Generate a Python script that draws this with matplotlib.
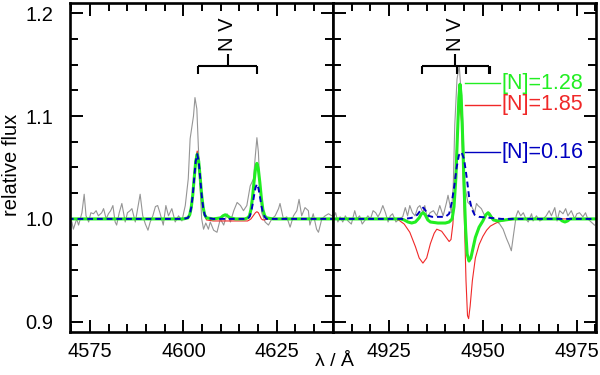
import matplotlib
matplotlib.use("Agg")
import matplotlib.pyplot as plt
from matplotlib.ticker import MultipleLocator, FormatStrFormatter

plt.rcParams['font.family'] = ['Liberation Sans', 'DejaVu Sans']

# ---------------- observed spectrum (gray) ----------------
wl_obs_left = [4570.1, 4570.5, 4571.4, 4571.9, 4572.8, 4573.4, 4573.9, 4574.6, 4575.2, 4575.9,
               4576.6, 4577.2, 4578.1, 4578.6, 4579.3, 4579.9, 4580.5, 4581.1, 4581.7, 4582.1,
               4582.8, 4583.5, 4584.4, 4585.0, 4585.7, 4586.2, 4587.1, 4587.5, 4588.4, 4589.1,
               4589.8, 4590.5, 4591.1, 4591.8, 4592.5, 4593.1, 4593.7, 4594.6, 4595.3, 4596.0,
               4596.9, 4597.8, 4598.7, 4599.6, 4600.5, 4601.3, 4601.8, 4602.7, 4603.1, 4603.6,
               4604.0, 4604.5, 4604.9, 4605.4, 4606.0, 4606.7, 4607.2, 4608.1, 4609.0, 4609.9,
               4610.8, 4611.7, 4612.6, 4613.5, 4614.4, 4615.3, 4616.1, 4617.0, 4617.9, 4618.8,
               4619.2, 4619.7, 4620.1, 4620.5, 4621.0, 4621.9, 4622.8, 4623.7, 4624.6, 4625.5,
               4625.9, 4626.8, 4627.7, 4628.6, 4629.5, 4630.4, 4631.0, 4631.7, 4632.6, 4633.5,
               4633.9, 4634.8, 4635.7, 4636.2, 4637.1, 4638.0, 4638.9, 4639.8, 4640.6]
fl_obs_left = [0.997, 0.990, 1.000, 0.994, 1.006, 1.024, 1.003, 0.997, 1.006, 1.005,
               1.008, 1.003, 1.006, 1.010, 1.000, 1.005, 1.008, 1.013, 0.997, 0.994,
               1.006, 1.015, 0.997, 1.006, 1.008, 1.010, 0.997, 1.005, 1.024, 1.003,
               0.995, 0.989, 0.997, 1.003, 1.012, 1.013, 1.006, 0.994, 1.013, 1.003,
               1.010, 0.997, 1.003, 0.998, 1.013, 1.039, 1.078, 1.100, 1.118, 1.107,
               1.071, 1.029, 1.000, 0.990, 0.996, 0.990, 0.997, 0.989, 0.987, 1.000,
               0.994, 1.005, 0.997, 1.008, 1.016, 1.013, 1.008, 1.013, 1.032, 1.039,
               1.058, 1.079, 1.065, 1.032, 1.006, 0.997, 0.994, 1.000, 1.003, 1.010,
               1.015, 1.000, 1.002, 0.992, 1.003, 1.008, 1.019, 1.003, 1.011, 1.008,
               0.994, 1.005, 0.990, 0.987, 1.000, 1.003, 1.005, 1.003, 1.006]

wl_obs_right = [4910.0, 4910.7, 4911.3, 4911.9, 4912.6, 4913.3, 4914.0, 4914.9, 4915.8, 4916.4,
                4917.1, 4917.8, 4918.4, 4919.3, 4920.0, 4920.7, 4921.4, 4922.0, 4922.6, 4923.3,
                4924.0, 4924.7, 4925.3, 4925.9, 4926.8, 4927.7, 4928.6, 4929.3, 4929.9, 4930.5,
                4931.2, 4931.9, 4932.6, 4933.2, 4934.0, 4934.5, 4935.2, 4935.9, 4936.8, 4937.7,
                4938.5, 4939.4, 4940.3, 4940.7, 4941.6, 4942.1, 4942.5, 4943.1, 4943.7, 4944.3,
                4944.7, 4945.2, 4946.0, 4946.9, 4947.8, 4948.3, 4948.7, 4949.6, 4950.5, 4951.8,
                4952.8, 4953.6, 4954.5, 4955.4, 4956.3, 4957.0, 4957.6, 4958.2, 4958.9, 4959.4,
                4960.1, 4960.8, 4961.5, 4962.1, 4963.0, 4963.4, 4964.3, 4965.2, 4966.1, 4966.9,
                4967.7, 4968.3, 4969.2, 4969.8, 4970.5, 4971.4, 4972.1, 4972.7, 4973.6, 4974.5,
                4975.1, 4975.8, 4976.7, 4977.4, 4978.0, 4978.9, 4979.8]
fl_obs_right = [1.000, 1.006, 0.997, 1.002, 0.997, 1.003, 0.998, 0.995, 1.008, 1.000,
                1.003, 0.995, 0.998, 1.003, 1.000, 1.008, 1.006, 1.002, 1.006, 1.013,
                1.006, 0.997, 1.003, 1.005, 0.997, 1.000, 1.002, 1.011, 1.003, 1.013,
                1.006, 1.003, 1.011, 1.013, 1.006, 1.013, 1.000, 1.006, 1.008, 1.003,
                1.013, 1.003, 1.016, 1.023, 1.006, 1.032, 1.091, 1.136, 1.149, 1.117,
                1.091, 1.032, 1.016, 1.013, 1.006, 1.015, 1.013, 1.010, 1.003, 1.006,
                1.000, 0.998, 0.995, 0.990, 0.981, 0.975, 0.969, 0.985, 1.003, 1.008,
                1.003, 1.006, 1.000, 0.997, 1.005, 0.998, 1.003, 0.998, 1.000, 1.003,
                1.008, 1.003, 1.011, 0.998, 1.008, 1.005, 1.010, 1.003, 1.008, 1.000,
                1.005, 1.006, 1.002, 1.006, 1.000, 0.997, 0.994]

# ---------------- model spectra, left window (N V 4604/4620) ----------------
wl_mod_left = [4569.0, 4600.0, 4601.2, 4601.7, 4602.1, 4602.5, 4602.9, 4603.3, 4603.7, 4604.1,
               4604.5, 4604.9, 4605.3, 4605.7, 4606.2, 4608.0, 4610.0, 4610.6, 4611.2, 4611.8,
               4612.5, 4614.0, 4616.5, 4617.2, 4617.7, 4618.1, 4618.5, 4618.9, 4619.3, 4619.7,
               4620.1, 4620.5, 4620.9, 4621.3, 4621.8, 4622.3, 4624.0, 4641.0]
green_left = [1.000, 1.000, 1.001, 1.004, 1.011, 1.023, 1.040, 1.056, 1.063, 1.056,
              1.040, 1.023, 1.011, 1.004, 1.001, 1.000, 1.001, 1.003, 1.004, 1.003,
              1.001, 1.000, 1.000, 1.001, 1.003, 1.009, 1.020, 1.035, 1.048, 1.054,
              1.048, 1.035, 1.020, 1.009, 1.003, 1.001, 1.000, 1.000]
red_left = [1.000, 1.000, 1.001, 1.004, 1.012, 1.025, 1.043, 1.059, 1.066, 1.059,
            1.043, 1.025, 1.011, 1.003, 0.999, 0.998, 0.998, 0.998, 0.998, 0.998,
            0.998, 0.998, 0.998, 0.998, 0.999, 1.000, 1.002, 1.004, 1.006, 1.007,
            1.006, 1.003, 1.000, 0.999, 0.999, 1.000, 1.000, 1.000]
blue_left = [1.000, 1.000, 1.001, 1.004, 1.011, 1.023, 1.040, 1.056, 1.063, 1.056,
             1.040, 1.023, 1.011, 1.004, 1.001, 1.000, 1.000, 1.000, 1.000, 1.000,
             1.000, 1.000, 1.000, 1.000, 1.002, 1.006, 1.013, 1.022, 1.030, 1.034,
             1.030, 1.022, 1.013, 1.006, 1.002, 1.000, 1.000, 1.000]

# ---------------- model spectra, right window (N V 4945) ----------------
wl_red_right = [4909.0, 4926.0, 4927.5, 4929.0, 4930.5, 4932.0, 4933.0, 4934.0, 4935.0, 4936.0,
                4937.0, 4937.7, 4939.0, 4940.0, 4941.0, 4941.5, 4942.0, 4942.5, 4943.0, 4943.5,
                4943.9, 4944.3, 4944.7, 4945.1, 4945.5, 4945.9, 4946.2, 4946.6, 4947.2, 4948.0,
                4949.0, 4950.0, 4951.0, 4952.0, 4953.5, 4955.0, 4957.0, 4960.0, 4981.0]
red_right = [1.000, 1.000, 0.999, 0.995, 0.987, 0.973, 0.962, 0.957, 0.962, 0.976,
             0.986, 0.990, 0.988, 0.983, 0.978, 0.980, 0.995, 1.030, 1.070, 1.100,
             1.110, 1.095, 1.050, 0.995, 0.940, 0.906, 0.903, 0.915, 0.940, 0.962,
             0.975, 0.983, 0.989, 0.993, 0.996, 0.998, 0.999, 1.000, 1.000]

wl_green_right = [4909.0, 4928.0, 4929.0, 4930.0, 4931.0, 4932.0, 4933.0, 4933.6, 4934.1, 4934.6,
                  4935.3, 4936.0, 4938.0, 4940.0, 4941.0, 4941.8, 4942.3, 4942.8, 4943.2, 4943.6,
                  4943.9, 4944.2, 4944.6, 4945.0, 4945.4, 4945.8, 4946.3, 4946.8, 4947.4, 4948.0,
                  4949.0, 4950.0, 4950.8, 4951.4, 4952.0, 4952.8, 4954.0, 4956.0, 4958.0, 4970.5,
                  4971.2, 4971.9, 4972.6, 4973.3, 4981.0]
green_right = [1.000, 1.000, 0.999, 0.997, 0.996, 0.997, 1.001, 1.005, 1.006, 1.004,
               0.999, 0.997, 0.996, 0.996, 0.997, 1.000, 1.012, 1.040, 1.080, 1.118,
               1.131, 1.120, 1.080, 1.030, 0.990, 0.966, 0.959, 0.962, 0.972, 0.982,
               0.992, 0.998, 1.004, 1.006, 1.003, 0.999, 0.998, 0.999, 1.000, 1.000,
               0.998, 0.997, 0.998, 1.000, 1.000]

wl_blue_right = [4909.0, 4929.0, 4931.0, 4932.5, 4933.5, 4934.1, 4934.7, 4935.5, 4936.5, 4938.0,
                 4940.0, 4941.0, 4941.7, 4942.3, 4943.0, 4943.6, 4944.3, 4945.0, 4945.7, 4946.3,
                 4947.0, 4947.8, 4949.0, 4952.0, 4955.0, 4981.0]
blue_right = [1.000, 1.000, 1.001, 1.004, 1.009, 1.011, 1.008, 1.003, 1.002, 1.002,
              1.002, 1.005, 1.016, 1.030, 1.050, 1.062, 1.065, 1.058, 1.040, 1.022,
              1.010, 1.004, 1.002, 1.001, 1.000, 1.000]

# ---------------- annotations ----------------
nv_left = [4603.9, 4619.6]
nv_left_center = 4611.9
nv_right = [4933.8, 4951.7]
nv_right_inner = [4943.0, 4945.5]
nv_right_center = 4942.6
legend_labels = ['[N]=1.28', '[N]=1.85', '[N]=0.16']
legend_levels = [1.132, 1.111, 1.065]

c_gray = '#959595'
c_red = '#f02828'
c_green = '#22ee22'
c_blue = '#0000c0'
legend_colors = [c_green, c_red, c_blue]

fig = plt.figure(figsize=(6, 3.75), dpi=100)
axL = fig.add_axes([70/600, 43/375, 263/600, 329/375])
axR = fig.add_axes([333/600, 43/375, 263/600, 329/375])

TFS = 14.5

def style(ax, xlim, show_y):
    ax.set_xlim(*xlim)
    ax.set_ylim(0.89, 1.21)
    ax.xaxis.set_major_locator(MultipleLocator(25))
    ax.xaxis.set_minor_locator(MultipleLocator(5))
    ax.yaxis.set_major_locator(MultipleLocator(0.1))
    ax.yaxis.set_minor_locator(MultipleLocator(0.025))
    ax.yaxis.set_major_formatter(FormatStrFormatter('%.1f'))
    ax.tick_params(which='both', direction='in', top=True, right=True, width=1.4, colors='black')
    ax.tick_params(which='major', length=9)
    ax.tick_params(which='minor', length=5.5)
    ax.tick_params(axis='x', labelsize=TFS, pad=7)
    ax.tick_params(axis='y', labelsize=TFS, pad=12, labelleft=show_y)
    for s in ax.spines.values():
        s.set_linewidth(1.9)

# left panel
axL.plot(wl_obs_left, fl_obs_left, color=c_gray, lw=0.8)
axL.plot(wl_mod_left, red_left, color=c_red, lw=0.8)
axL.plot(wl_mod_left, green_left, color=c_green, lw=2.2)
axL.plot(wl_mod_left, blue_left, color=c_blue, lw=1.4, dashes=(3, 2))
style(axL, (4569.6, 4640.1), True)

bl = dict(color='black', lw=1.5, solid_capstyle='butt')
axL.plot([nv_left[0], nv_left[1]], [1.149, 1.149], **bl)
for w in nv_left:
    axL.plot([w, w], [1.149, 1.1405], **bl)
axL.plot([nv_left_center, nv_left_center], [1.149, 1.160], **bl)
axL.text(nv_left_center, 1.163, 'N V', rotation=90, ha='center', va='bottom', fontsize=TFS)

# right panel
axR.plot(wl_obs_right, fl_obs_right, color=c_gray, lw=0.8)
axR.plot(wl_red_right, red_right, color=c_red, lw=0.8)
axR.plot(wl_green_right, green_right, color=c_green, lw=2.2)
axR.plot(wl_blue_right, blue_right, color=c_blue, lw=1.4, dashes=(3, 2))
style(axR, (4910.0, 4980.2), False)

axR.plot([nv_right[0], nv_right[1]], [1.149, 1.149], **bl)
for w in nv_right + nv_right_inner:
    axR.plot([w, w], [1.149, 1.1405], **bl)
axR.plot([nv_right[1] + 0.25, nv_right[1] + 0.25], [1.149, 1.1405], **bl)
axR.plot([nv_right_center, nv_right_center], [1.149, 1.160], **bl)
axR.text(nv_right_center, 1.163, 'N V', rotation=90, ha='center', va='bottom', fontsize=TFS)

for lab, lev, col in zip(legend_labels, legend_levels, legend_colors):
    axR.plot([4945.2, 4954.6], [lev, lev], color=col, lw=1.0)
    axR.text(4955.0, lev, lab, color=col, ha='left', va='center', fontsize=15.5)

fig.text(12/600, 1 - 165/375, 'relative flux', rotation=90, ha='center', va='center', fontsize=14.5)
fig.text(334/600, 1 - 362/375, 'λ / Å', ha='center', va='center', fontsize=14)

fig.savefig('out.png', dpi=100)
